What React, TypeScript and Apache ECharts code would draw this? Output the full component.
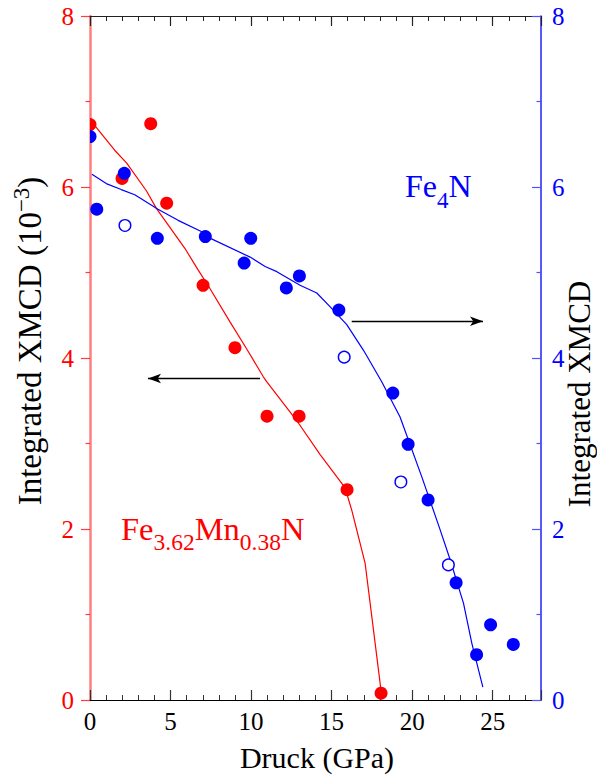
import React, { useEffect, useRef } from "react";
import * as echarts from "echarts";

const FONT = "'Liberation Serif', 'Times New Roman', serif";

// Fe3.62Mn0.38N measured points (left axis)
const redPoints: number[][] = [
  [0, 6.73], [1.99, 6.1], [3.77, 6.74], [4.76, 5.81], [7.02, 4.85],
  [9.0, 4.12], [10.99, 3.32], [12.98, 3.32], [15.96, 2.46], [18.07, 0.08],
];
// Fe3.62Mn0.38N guide curve
const redCurve: number[][] = [
  [0.2, 6.74], [1.53, 6.43], [2.28, 6.28], [3.52, 5.95], [4.12, 5.75],
  [5.9, 5.28], [6.71, 5.03], [7.39, 4.83], [8.7, 4.42], [9.75, 4.1],
  [10.76, 3.78], [10.98, 3.72], [12.94, 3.24], [14.29, 2.87], [15.84, 2.48],
  [16.25, 2.22], [17.08, 1.6], [17.5, 0.97], [18.01, 0.2], [18.07, 0.09],
];
// Fe4N filled points (right axis)
const bluePoints: number[][] = [
  [0, 6.59], [0.42, 5.74], [2.13, 6.16], [4.18, 5.4], [7.16, 5.42],
  [9.57, 5.11], [9.98, 5.4], [12.19, 4.82], [13.0, 4.96], [15.45, 4.56],
  [18.8, 3.59], [19.75, 2.99], [20.99, 2.34], [22.73, 1.37], [24.0, 0.53],
  [24.87, 0.88], [26.28, 0.65],
];
// Fe4N open points (right axis)
const blueOpenPoints: number[][] = [
  [2.17, 5.55], [15.78, 4.01], [19.3, 2.55], [22.25, 1.58],
];
// Fe4N guide curve
const blueCurve: number[][] = [
  [0.12, 6.15], [1.01, 6.04], [1.94, 5.97], [2.78, 5.91], [4.22, 5.74],
  [5.47, 5.61], [6.91, 5.48], [7.25, 5.42], [9.94, 5.18], [10.87, 5.07],
  [11.6, 5.01], [13.04, 4.85], [14.08, 4.76], [14.9, 4.6], [15.94, 4.39],
  [16.98, 4.09], [18.12, 3.72], [19.25, 3.31], [20.6, 2.61], [21.74, 1.99],
  [22.36, 1.64], [23.19, 1.13], [23.71, 0.66], [24.39, 0.15],
];
// arrows pointing to the relevant axis
const leftArrow: number[][] = [[10.56, 3.76], [3.6, 3.76]];
const rightArrow: number[][] = [[16.25, 4.43], [24.4, 4.43]];

const xMajorTicks = [0, 5, 10, 15, 20, 25];
const yTicks = [0, 2, 4, 6, 8];

const xTitle = "Druck (GPa)";
const leftTitle = "{m|Integrated XMCD (10}{s|\u22123}{m|)}";
const rightTitle = "Integrated XMCD";
const feLabel = "{m|Fe}{s|4}{m|N}";
const feMnLabel = "{m|Fe}{s|3.62}{m|Mn}{s|0.38}{m|N}";

function dotSeries(name: string, data: number[][], yAxisIndex: number, color: string, open: boolean, z: number) {
  return {
    name,
    type: "custom",
    xAxisIndex: 0,
    yAxisIndex,
    clip: true,
    z,
    data,
    renderItem: (_p: any, api: any) => {
      const c = api.coord([api.value(0), api.value(1)]);
      return {
        type: "circle",
        shape: { cx: c[0], cy: c[1], r: open ? 5.8 : 6.5 },
        style: open
          ? { fill: "#ffffff", stroke: color, lineWidth: 1.4 }
          : { fill: color, stroke: null },
      };
    },
  };
}

export default function App() {
  const ref = useRef<HTMLDivElement>(null);
  useEffect(() => {
    document.body.style.margin = "0";
    const chart = echarts.init(ref.current!, null, { renderer: "svg" });
    const xMin = 0, xMax = 28;
    const baseX = { type: "value", min: xMin, max: xMax, splitLine: { show: false } };
    const option: any = {
      animation: false,
      backgroundColor: "#ffffff",
      grid: { left: 90, right: 56, top: 16, bottom: 78 },
      xAxis: [
        {
          ...baseX, position: "bottom", interval: 5,
          axisLine: { show: true, onZero: false, lineStyle: { color: "#000", width: 1.2 } },
          axisTick: { show: true, inside: true, length: 10, lineStyle: { color: "#333", width: 1.2 } },
          axisLabel: {
            show: true, margin: 9, color: "#000", fontSize: 25, fontFamily: FONT,
            formatter: (v: number) => (xMajorTicks.includes(v) ? String(v) : ""),
          },
        },
        {
          ...baseX, position: "bottom", interval: 1,
          axisLine: { show: false, onZero: false },
          axisTick: { show: true, inside: true, length: 5, lineStyle: { color: "#333", width: 1 } },
          axisLabel: { show: false },
        },
        {
          ...baseX, position: "top", interval: 5,
          axisLine: { show: true, onZero: false, lineStyle: { color: "#222", width: 1.2 } },
          axisTick: { show: true, inside: true, length: 10, lineStyle: { color: "#222", width: 1.2 } },
          axisLabel: { show: false },
        },
        {
          ...baseX, position: "top", interval: 1,
          axisLine: { show: false, onZero: false },
          axisTick: { show: true, inside: true, length: 5, lineStyle: { color: "#222", width: 1 } },
          axisLabel: { show: false },
        },
      ],
      yAxis: [
        {
          type: "value", position: "left", min: 0, max: 8, interval: 2,
          splitLine: { show: false },
          axisLine: { show: true, onZero: false, lineStyle: { color: "rgba(255,0,0,0.5)", width: 2.5 } },
          axisTick: { show: true, inside: false, length: 9, lineStyle: { color: "rgba(255,0,0,0.75)", width: 1.2 } },
          minorTick: { show: true, splitNumber: 2, length: 4.5, lineStyle: { color: "rgba(255,0,0,0.75)", width: 1.2 } },
          axisLabel: {
            margin: 16, color: "#ff0000", fontSize: 25, fontFamily: FONT,
            formatter: (v: number) => (yTicks.includes(v) ? String(v) : ""),
          },
        },
        {
          type: "value", position: "right", min: 0, max: 8, interval: 2,
          splitLine: { show: false },
          axisLine: { show: true, onZero: false, lineStyle: { color: "#2020ff", width: 1.5 } },
          axisTick: { show: true, inside: true, length: 9, lineStyle: { color: "#5050ff", width: 1.2 } },
          minorTick: { show: true, splitNumber: 2, length: 4.5, lineStyle: { color: "#5050ff", width: 1.2 } },
          axisLabel: {
            margin: 11, color: "#0000ff", fontSize: 25, fontFamily: FONT,
            formatter: (v: number) => (yTicks.includes(v) ? String(v) : ""),
          },
        },
      ],
      series: [
        {
          name: "Fe3.62Mn0.38N fit", type: "line", xAxisIndex: 0, yAxisIndex: 0,
          data: redCurve, showSymbol: false, symbol: "none", z: 2,
          lineStyle: { color: "#ff0000", width: 1.2 },
          markLine: {
            silent: true, symbol: ["none", "arrow"], symbolSize: [7, 13],
            label: { show: false },
            lineStyle: { color: "#000", width: 1.3, type: "solid" },
            emphasis: { disabled: true },
            data: [[{ coord: leftArrow[0] }, { coord: leftArrow[1] }]],
          },
        },
        {
          name: "Fe4N fit", type: "line", xAxisIndex: 0, yAxisIndex: 1,
          data: blueCurve, showSymbol: false, symbol: "none", z: 2,
          lineStyle: { color: "#0000ff", width: 1.2 },
          markLine: {
            silent: true, symbol: ["none", "arrow"], symbolSize: [7, 13],
            label: { show: false },
            lineStyle: { color: "#000", width: 1.3, type: "solid" },
            emphasis: { disabled: true },
            data: [[{ coord: rightArrow[0] }, { coord: rightArrow[1] }]],
          },
        },
        dotSeries("Fe3.62Mn0.38N", redPoints, 0, "#ff0000", false, 3),
        dotSeries("Fe4N open", blueOpenPoints, 1, "#0000ff", true, 4),
        dotSeries("Fe4N", bluePoints, 1, "#0000ff", false, 5),
      ],
      graphic: [
        {
          type: "text", x: 317, y: 757, z: 10,
          style: { text: xTitle, font: `30px ${FONT}`, fill: "#000", align: "center", verticalAlign: "middle" },
        },
        {
          type: "text", x: 28, y: 341, rotation: Math.PI / 2, z: 10,
          style: {
            text: leftTitle, fill: "#000", align: "center", verticalAlign: "middle",
            fontFamily: FONT, fontSize: 33,
            rich: {
              m: { fontSize: 33, lineHeight: 37, verticalAlign: "bottom", fontFamily: FONT, fill: "#000" },
              s: { fontSize: 23, lineHeight: 22, verticalAlign: "top", fontFamily: FONT, fill: "#000" },
            },
          },
        },
        {
          type: "text", x: 579, y: 394, rotation: Math.PI / 2, z: 10,
          style: { text: rightTitle, font: `31px ${FONT}`, fill: "#000", align: "center", verticalAlign: "middle" },
        },
        {
          type: "text", x: 405, y: 170, z: 10,
          style: {
            text: feLabel, fill: "#0000ff", align: "left", verticalAlign: "top",
            fontFamily: FONT, fontSize: 32,
            rich: {
              m: { fontSize: 32, lineHeight: 32, verticalAlign: "top", fontFamily: FONT, fill: "#0000ff" },
              s: { fontSize: 23, lineHeight: 42, verticalAlign: "bottom", fontFamily: FONT, fill: "#0000ff" },
            },
          },
        },
        {
          type: "text", x: 121, y: 512, z: 10,
          style: {
            text: feMnLabel, fill: "#ff0000", align: "left", verticalAlign: "top",
            fontFamily: FONT, fontSize: 32.5,
            rich: {
              m: { fontSize: 32.5, lineHeight: 32, verticalAlign: "top", fontFamily: FONT, fill: "#ff0000" },
              s: { fontSize: 23.5, lineHeight: 42, verticalAlign: "bottom", fontFamily: FONT, fill: "#ff0000" },
            },
          },
        },
      ],
    };
    chart.setOption(option);
    return () => chart.dispose();
  }, []);
  return <div ref={ref} style={{ width: 597, height: 778 }} />;
}
